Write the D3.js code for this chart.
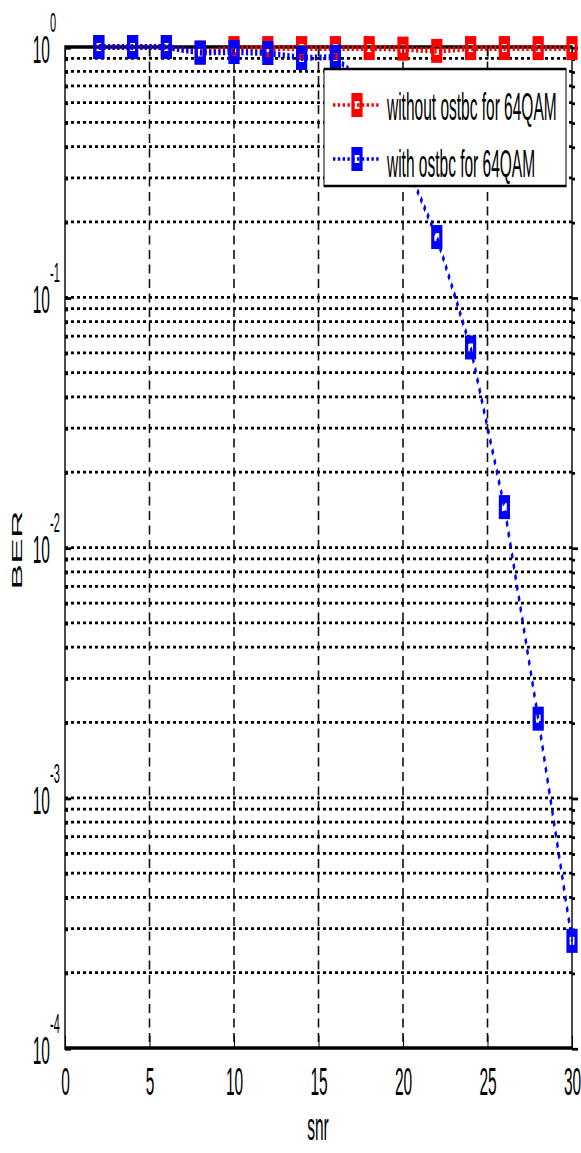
<!doctype html>
<html>
<head>
<style>
    body { margin: 0; background: #fff; }
    text { font-family: "Liberation Sans", Arial, sans-serif; fill: #000; }
</style>
<script src="https://d3js.org/d3.v7.min.js"></script>
</head>
<body>
<script>
    // snr points and BER of the two runs
    const snr = [2, 4, 6, 8, 10, 12, 14, 16, 18, 20, 22, 24, 26, 28, 30];
    const berWithout = [1.0, 1.0, 1.0, 0.95, 0.99, 0.99, 0.99, 0.99, 0.99, 0.985, 0.965, 0.99, 0.99, 0.99, 0.99];
    const berWith = [1.0, 1.0, 1.0, 0.95, 0.955, 0.946, 0.904, 0.912, 0.68, 0.366, 0.174, 0.063, 0.0145, 0.00207, 0.000268];

    const xTicks = [0, 5, 10, 15, 20, 25, 30];
    const yDecades = [-4, -3, -2, -1, 0];
    const legendLabels = ['without ostbc for 64QAM', 'with ostbc for 64QAM'];
    const seriesColors = ['#ff0000', '#0000ff'];

    const W = 581, H = 1153;
    const sy = 2.5; // the picture is stretched vertically

    const svg = d3.select('body').append('svg')
        .attr('width', W)
        .attr('height', H);

    const g = svg.append('g').attr('transform', `scale(1,${sy})`);

    const x = d3.scaleLinear().domain([0, 30]).range([65, 572]);
    const y = d3.scaleLog().domain([1e-4, 1]).range([1048 / sy, 47 / sy]);

    // all log ticks 1..9 x 10^k
    const majors = yDecades.map(k => Math.pow(10, k));
    let minors = [];
    yDecades.slice(0, -1).forEach(k => {
        for (let m = 2; m <= 9; m++) minors.push(m * Math.pow(10, k));
    });
    const gridVals = majors.concat(minors).filter(v => v > 1e-4 && v < 1);

    // horizontal dotted grid
    g.append('g').selectAll('line').data(gridVals).enter()
        .append('line')
        .attr('x1', x(0)).attr('x2', x(30))
        .attr('y1', d => y(d)).attr('y2', d => y(d))
        .attr('stroke', '#000')
        .attr('stroke-width', 1.1)
        .attr('stroke-dasharray', '3,3');

    // vertical dashed grid
    g.append('g').selectAll('line').data(xTicks.slice(1, -1)).enter()
        .append('line')
        .attr('x1', d => x(d)).attr('x2', d => x(d))
        .attr('y1', y(1)).attr('y2', y(1e-4))
        .attr('stroke', '#111')
        .attr('stroke-width', 1.6)
        .attr('stroke-dasharray', '3.6,2.2');

    // ticks
    const bottomAxis = g.append('g')
        .attr('transform', `translate(0,${y(1e-4)})`)
        .call(d3.axisBottom(x).tickValues(xTicks).tickSizeInner(-5).tickSizeOuter(0).tickPadding(8));
    bottomAxis.select('.domain').remove();
    bottomAxis.selectAll('text').attr('font-size', 15.5).attr('fill', '#000')
        .attr('font-family', '"Liberation Sans", Arial, sans-serif');

    const topAxis = g.append('g')
        .attr('transform', `translate(0,${y(1)})`)
        .call(d3.axisTop(x).tickValues(xTicks).tickSizeInner(-5).tickSizeOuter(0).tickFormat(''));
    topAxis.select('.domain').remove();

    function yTicks(axisFn, xpos, vals, len) {
        const a = g.append('g')
            .attr('transform', `translate(${xpos},0)`)
            .call(axisFn(y).tickValues(vals).tickSizeInner(-len).tickSizeOuter(0).tickFormat(''));
        a.select('.domain').remove();
        a.selectAll('line').attr('stroke-width', 1.1);
    }
    yTicks(d3.axisLeft, x(0), majors, 6);
    yTicks(d3.axisLeft, x(0), minors, 3);
    yTicks(d3.axisRight, x(30), majors, -6);
    yTicks(d3.axisRight, x(30), minors, -3);

    // y tick labels 10^k
    const yLab = g.append('g').selectAll('g').data(yDecades).enter().append('g');
    yLab.append('text')
        .attr('x', 50)
        .attr('y', d => y(Math.pow(10, d)) + 16 / sy)
        .attr('text-anchor', 'end')
        .attr('font-size', 15.5)
        .text('10');
    yLab.append('text')
        .attr('x', 50)
        .attr('y', d => y(Math.pow(10, d)) - 15 / sy)
        .attr('font-size', 11)
        .text(d => d === 0 ? '0' : '-' + (-d));

    // box
    g.append('rect')
        .attr('x', x(0)).attr('y', y(1))
        .attr('width', x(30) - x(0)).attr('height', y(1e-4) - y(1))
        .attr('fill', 'none')
        .attr('stroke', '#000')
        .attr('stroke-width', 1.4);

    // series
    const line = d3.line().x(d => x(d[0])).y(d => y(d[1]));
    const series = [berWithout, berWith].map(vals => snr.map((s, i) => [s, vals[i]]));

    function marker(sel, color) {
        sel.append('rect')
            .attr('x', -4).attr('y', -3.2)
            .attr('width', 8).attr('height', 6.4)
            .attr('fill', 'none')
            .attr('stroke', color)
            .attr('stroke-width', 3.2);
    }

    series.forEach((pts, i) => {
        g.append('path')
            .attr('d', line(pts))
            .attr('fill', 'none')
            .attr('stroke', seriesColors[i])
            .attr('stroke-width', 2.4)
            .attr('stroke-dasharray', '2.2,2.4');
        g.append('g').selectAll('g').data(pts).enter()
            .append('g')
            .attr('transform', d => `translate(${x(d[0])},${y(d[1])})`)
            .call(marker, seriesColors[i]);
    });

    // axis labels
    g.append('text')
        .attr('x', 318).attr('y', 1140 / sy)
        .attr('text-anchor', 'middle')
        .attr('font-size', 15.5)
        .text('snr');
    g.append('text')
        .attr('transform', `translate(22,${550 / sy}) rotate(-90)`)
        .attr('text-anchor', 'middle')
        .attr('font-size', 15.5)
        .text('BER');

    // legend
    const leg = g.append('g');
    leg.append('rect')
        .attr('x', 324).attr('y', 69 / sy)
        .attr('width', 242).attr('height', 117 / sy)
        .attr('fill', '#fff')
        .attr('stroke', '#000')
        .attr('stroke-width', 1);
    const rowsY = [105 / sy, 159 / sy];
    legendLabels.forEach((lab, i) => {
        const row = leg.append('g').attr('transform', `translate(0,${rowsY[i]})`);
        row.append('line')
            .attr('x1', 333).attr('x2', 381)
            .attr('stroke', seriesColors[i])
            .attr('stroke-width', 1.4)
            .attr('stroke-dasharray', '2.4,2.4');
        row.append('g').attr('transform', 'translate(357,0)').call(marker, seriesColors[i]);
        row.append('text')
            .attr('x', 387).attr('y', 15 / sy + (i ? 3 / sy : 0))
            .attr('font-size', 15.5)
            .attr('fill', '#111')
            .text(lab);
    });
</script>
</body>
</html>
